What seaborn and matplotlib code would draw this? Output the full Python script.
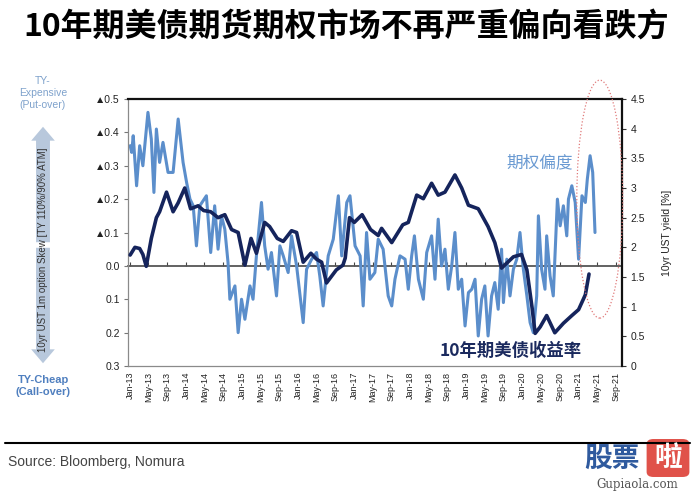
import numpy as np
import pandas as pd
import matplotlib
matplotlib.use("Agg")
import matplotlib.pyplot as plt
import matplotlib.dates as mdates
from matplotlib.patches import Ellipse, FancyArrowPatch, FancyBboxPatch
from matplotlib.lines import Line2D
import seaborn as sns

# ---------------- data ----------------
skew_dates = [
    "2013-01-02", "2013-01-12", "2013-01-22", "2013-02-13", "2013-03-05", "2013-03-26",
    "2013-04-28", "2013-05-20", "2013-06-06", "2013-06-22", "2013-07-13", "2013-08-04",
    "2013-09-06", "2013-10-09", "2013-11-11", "2013-12-13", "2014-01-05", "2014-01-27",
    "2014-02-17", "2014-03-10", "2014-04-01", "2014-05-14", "2014-06-11", "2014-07-07",
    "2014-07-29", "2014-08-20", "2014-09-11", "2014-10-02", "2014-10-14", "2014-11-16",
    "2014-12-07", "2014-12-29", "2015-01-20", "2015-02-22", "2015-03-14", "2015-04-05",
    "2015-05-08", "2015-05-29", "2015-06-20", "2015-07-12", "2015-08-14", "2015-09-05",
    "2015-09-27", "2015-10-29", "2015-11-20", "2015-12-23", "2016-02-04", "2016-02-26",
    "2016-03-30", "2016-05-01", "2016-05-22", "2016-06-13", "2016-07-16", "2016-08-18",
    "2016-09-20", "2016-10-12", "2016-11-14", "2016-12-05", "2017-01-07", "2017-02-09",
    "2017-03-01", "2017-03-23", "2017-04-14", "2017-05-16", "2017-06-07", "2017-07-09",
    "2017-08-11", "2017-09-03", "2017-09-24", "2017-10-27", "2017-11-29", "2017-12-20",
    "2018-01-11", "2018-01-29", "2018-02-24", "2018-03-28", "2018-04-19", "2018-05-21",
    "2018-06-12", "2018-07-03", "2018-07-25", "2018-08-16", "2018-09-07", "2018-09-29",
    "2018-10-20", "2018-11-11", "2018-12-03", "2018-12-25", "2019-01-16", "2019-02-07",
    "2019-02-28", "2019-03-21", "2019-04-12", "2019-05-03", "2019-05-24", "2019-06-16",
    "2019-07-07", "2019-07-29", "2019-08-20", "2019-09-01", "2019-09-23", "2019-10-14",
    "2019-11-05", "2019-11-27", "2019-12-18", "2020-01-09", "2020-02-01", "2020-02-22",
    "2020-03-14", "2020-04-05", "2020-04-16", "2020-05-07", "2020-05-29", "2020-06-09",
    "2020-07-01", "2020-07-22", "2020-08-18", "2020-09-05", "2020-09-26", "2020-10-18",
    "2020-10-29", "2020-11-20", "2020-12-12", "2021-01-03", "2021-01-25", "2021-02-16",
    "2021-03-01", "2021-03-19", "2021-04-05", "2021-04-20",
]
skew_values = [
    0.36, 0.34, 0.39, 0.24, 0.36, 0.30,
    0.46, 0.38, 0.22, 0.41, 0.31, 0.37,
    0.28, 0.28, 0.44, 0.31, 0.25, 0.20,
    0.18, 0.06, 0.18, 0.21, 0.04, 0.18,
    0.05, 0.15, 0.11, 0.01, -0.10, -0.06,
    -0.20, -0.10, -0.16, -0.06, -0.10, 0.03,
    0.19, 0.06, -0.01, 0.04, -0.09, 0.06,
    0.03, -0.02, 0.09, 0.00, -0.17, -0.01,
    0.02, 0.04, -0.03, -0.12, 0.03, 0.08,
    0.21, 0.03, 0.19, 0.21, 0.06, 0.03,
    -0.12, 0.10, -0.04, -0.02, 0.08, 0.05,
    -0.09, -0.12, -0.04, 0.03, 0.02, -0.07,
    0.03, 0.09, -0.04, -0.10, 0.04, 0.09,
    -0.04, 0.14, 0.00, 0.05, -0.07, 0.00,
    0.10, -0.07, -0.04, -0.18, -0.08, -0.07,
    -0.04, -0.21, -0.10, -0.06, -0.21, -0.09,
    -0.05, -0.13, 0.05, -0.11, 0.02, -0.09,
    -0.01, 0.02, 0.10, -0.01, -0.09, -0.17,
    -0.20, -0.09, 0.15, -0.01, -0.07, 0.09,
    -0.03, -0.09, 0.20, 0.12, 0.18, 0.09,
    0.20, 0.24, 0.19, 0.02, 0.21, 0.19,
    0.26, 0.33, 0.28, 0.10,
]

yield_dates = [
    "2013-01-02", "2013-02-02", "2013-03-05", "2013-03-26", "2013-04-17", "2013-05-20",
    "2013-06-22", "2013-07-13", "2013-08-27", "2013-10-09", "2013-11-11", "2013-12-24",
    "2014-01-31", "2014-03-21", "2014-04-26", "2014-06-11", "2014-07-29", "2014-09-11",
    "2014-10-25", "2014-12-07", "2015-01-20", "2015-03-01", "2015-04-05", "2015-05-29",
    "2015-06-30", "2015-08-19", "2015-09-27", "2015-11-20", "2015-12-23", "2016-02-04",
    "2016-03-25", "2016-05-01", "2016-06-03", "2016-07-05", "2016-09-07", "2016-10-20",
    "2016-11-04", "2016-12-02", "2017-01-02", "2017-02-22", "2017-04-18", "2017-06-07",
    "2017-06-29", "2017-09-03", "2017-11-14", "2017-12-20", "2018-02-13", "2018-03-28",
    "2018-05-21", "2018-07-03", "2018-08-16", "2018-10-20", "2018-12-03", "2019-01-16",
    "2019-03-21", "2019-05-24", "2019-07-07", "2019-08-20", "2019-11-05", "2019-12-28",
    "2020-02-01", "2020-03-05", "2020-03-26", "2020-04-28", "2020-06-09", "2020-08-01",
    "2020-09-26", "2020-11-20", "2021-01-03", "2021-02-16", "2021-03-12",
]
yield_values = [
    1.87, 2.00, 1.98, 1.88, 1.68, 2.15,
    2.50, 2.60, 2.93, 2.60, 2.75, 3.00,
    2.65, 2.70, 2.62, 2.60, 2.50, 2.55,
    2.30, 2.25, 1.70, 2.15, 1.90, 2.42,
    2.35, 2.15, 2.10, 2.28, 2.25, 1.75,
    1.90, 1.80, 1.75, 1.40, 1.62, 1.70,
    1.82, 2.50, 2.42, 2.55, 2.30, 2.20,
    2.32, 2.08, 2.38, 2.42, 2.88, 2.82,
    3.08, 2.88, 2.93, 3.22, 3.00, 2.71,
    2.65, 2.35, 2.08, 1.65, 1.84, 1.88,
    1.62, 1.00, 0.55, 0.66, 0.85, 0.56,
    0.72, 0.85, 0.95, 1.20, 1.55,
]

x_tick_dates = pd.date_range("2013-01-01", "2021-09-01", freq="4MS")
left_ticks = [0.5, 0.4, 0.3, 0.2, 0.1, 0.0, -0.1, -0.2, -0.3]
left_tick_labels = ["▲0.5", "▲0.4", "▲0.3", "▲0.2", "▲0.1", "0.0", "0.1", "0.2", "0.3"]
right_ticks = [0, 0.5, 1, 1.5, 2, 2.5, 3, 3.5, 4, 4.5]
right_tick_labels = ["0", "0.5", "1", "1.5", "2", "2.5", "3", "3.5", "4", "4.5"]

title = "10年期美债期货期权市场不再严重偏向看跌方"
left_axis_text = "10yr UST 1m option Skew [TY 110%/90% ATM]"
right_axis_text = "10yr UST yield [%]"
skew_label = "期权偏度"
yield_label = "10年期美债收益率"
source_text = "Source: Bloomberg, Nomura"

# ---------------- style ----------------
sns.set_theme(style="white")
plt.rcParams["font.family"] = ["Liberation Sans", "DejaVu Sans"]
CJK = ["Noto Sans CJK SC", "DejaVu Sans"]

W, H = 693, 494
fig = plt.figure(figsize=(W / 100, H / 100), dpi=100)
fig.patch.set_facecolor("white")


def fx(x):
    return x / W


def fy(y):
    return 1 - y / H


ax = fig.add_axes([fx(128), fy(366), (622 - 128) / W, (366 - 99) / H])

skew_df = pd.DataFrame({"date": pd.to_datetime(skew_dates), "skew": skew_values})
yld_df = pd.DataFrame({"date": pd.to_datetime(yield_dates), "yield": yield_values})

sns.lineplot(data=skew_df, x="date", y="skew", ax=ax, color="#5b8ecb", lw=2.2)
ax.set_ylim(-0.3, 0.5)

ax2 = ax.twinx()
sns.lineplot(data=yld_df, x="date", y="yield", ax=ax2, color="#15245c", lw=2.6)
ax2.set_ylim(0, 4.5)

ax.set_xlim(mdates.date2num(pd.Timestamp("2012-12-19")),
            mdates.date2num(pd.Timestamp("2021-10-13")))

# spines
for a in (ax, ax2):
    for s in a.spines.values():
        s.set_visible(False)
ax.spines["left"].set_visible(True)
ax.spines["left"].set_color("#8a8a8a")
ax.spines["left"].set_linewidth(0.9)
ax.spines["bottom"].set_visible(True)
ax.spines["bottom"].set_color("#8a8a8a")
ax.spines["bottom"].set_linewidth(0.9)
ax2.spines["right"].set_visible(True)
ax2.spines["right"].set_color("#111111")
ax2.spines["right"].set_linewidth(1.6)
ax2.spines["top"].set_visible(True)
ax2.spines["top"].set_color("#111111")
ax2.spines["top"].set_linewidth(1.6)

# x ticks
ax.set_xticks(mdates.date2num(x_tick_dates))
ax.set_xticklabels([d.strftime("%b-%y") for d in x_tick_dates], rotation=90,
                   fontsize=6.5, color="#222222")
ax.tick_params(axis="x", bottom=True, length=0, pad=4)
ax.set_xlabel("")

# left y ticks
ax.set_yticks(left_ticks)
ax.set_yticklabels(left_tick_labels, fontsize=7.5, color="#222222")
ax.tick_params(axis="y", left=True, length=3, width=0.8, color="#777777",
               direction="out", pad=3)
ax.set_ylabel("")

# right y ticks
ax2.set_yticks(right_ticks)
ax2.set_yticklabels(right_tick_labels, fontsize=7.5, color="#222222")
ax2.tick_params(axis="y", right=True, length=3, width=0.8, color="#333333",
                direction="out", pad=3)
ax2.set_ylabel(right_axis_text, fontsize=7.5, color="#222222", labelpad=12)

# zero line with tick marks (category axis crossing at 0)
sec = ax.secondary_xaxis(0.3 / 0.8)
sec.set_xticks(mdates.date2num(x_tick_dates))
sec.tick_params(axis="x", bottom=True, top=False, direction="in", length=3, width=0.8,
                color="#444444", labelbottom=False, labeltop=False)
for s in sec.spines.values():
    s.set_color("#555555")
    s.set_linewidth(1.3)

# dotted ellipse highlighting the latest data
ell = Ellipse((0.955, 0.625), 0.093, 0.891, transform=ax2.transAxes, fill=False,
              ec="#e07a7a", lw=0.9, ls=(0, (1, 1.6)), clip_on=False, zorder=5)
ax2.add_patch(ell)

# in-plot labels
fig.text(fx(540), fy(163), skew_label, ha="center", va="center", fontsize=12,
         color="#6a9ad2", family=CJK)
fig.text(fx(511), fy(351), yield_label, ha="center", va="center", fontsize=12.5,
         fontweight="bold", color="#1b2a5e", family=CJK)

# title
fig.text(0.5, fy(28), title, ha="center", va="center", fontsize=23,
         fontweight="bold", color="black", family=CJK)

# left side double arrow and captions
for tip in (124, 366):
    arr = FancyArrowPatch((fx(43), fy(245)), (fx(43), fy(tip)), transform=fig.transFigure,
                          arrowstyle="simple,head_length=1.0,head_width=1.7,tail_width=1.0",
                          mutation_scale=10, color="#b8c8dc", lw=0)
    fig.add_artist(arr)
fig.text(fx(43), fy(250), left_axis_text, rotation=90, ha="center", va="center",
         fontsize=7, color="#333333")
fig.text(fx(43), fy(93), "TY-\nExpensive\n(Put-over)", ha="center", va="center",
         fontsize=7.5, color="#7fa2cc", linespacing=1.25)
fig.text(fx(43), fy(386), "TY-Cheap\n(Call-over)", ha="center", va="center",
         fontsize=8, fontweight="bold", color="#4f7fbf", linespacing=1.2)

# source line
fig.add_artist(Line2D([fx(5), fx(690)], [fy(443), fy(443)], color="black", lw=1.5,
                      transform=fig.transFigure))
fig.text(fx(8), fy(462), source_text, ha="left", va="center", fontsize=10, color="#444444")

# watermark
fig.text(fx(612), fy(459), "股票", ha="center", va="center", fontsize=20,
         fontweight="bold", color="#2f5a9e", family=CJK)
box = FancyBboxPatch((fx(648), fy(476)), fx(40), 36 / H,
                     boxstyle="round,pad=0.002,rounding_size=0.01",
                     transform=fig.transFigure, fc="#e0524a", ec="none")
fig.add_artist(box)
fig.text(fx(668), fy(458), "啦", ha="center", va="center", fontsize=20,
         fontweight="bold", color="white", family=CJK)
fig.text(fx(637), fy(484), "Gupiaola.com", ha="center", va="center", fontsize=8.5,
         color="#555555", family=["DejaVu Serif"])

fig.savefig("out.png", dpi=100, facecolor="white")
